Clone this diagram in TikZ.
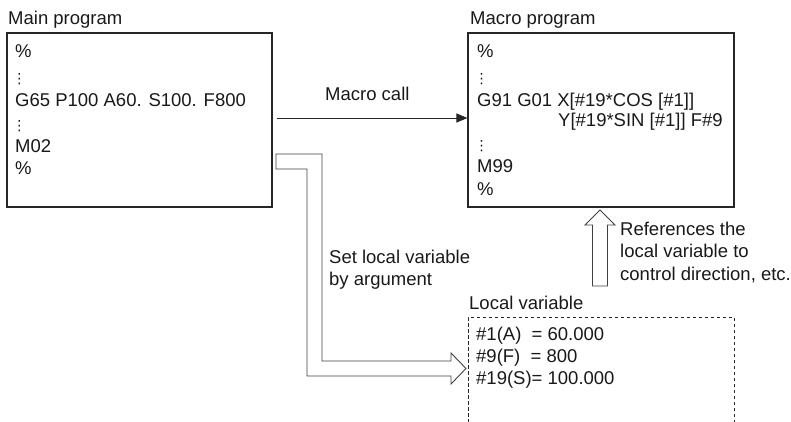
\documentclass[tikz,border=0pt]{standalone}
\usepackage{fontspec}
\setmainfont{Liberation Sans}
\newfontfamily\dejavu{DejaVu Sans}
\usetikzlibrary{arrows.meta}
\begin{document}
\begin{tikzpicture}[x=1pt,y=-1pt,
  txt/.style={anchor=base west, inner sep=0pt, text=black!90, font=\fontsize{18.5}{22}\selectfont},
  dotsty/.style={anchor=base, inner sep=0pt, text=black!90, font=\dejavu\fontsize{14}{16}\selectfont},
  boxed/.style={draw=black!85, line width=1.1pt, inner sep=0pt},
  hollow/.style={draw=black!75, line width=0.9pt, line join=miter}]
\useasboundingbox (0,0) rectangle (791,421);

% boxes
\node[boxed, minimum width=265pt, minimum height=174pt] (mainbox) at (139.5,120) {};
\node[boxed, minimum width=266pt, minimum height=174pt] (macrobox) at (601,120) {};
\node[boxed, dash pattern=on 3.5pt off 2.5pt, line width=1pt, minimum width=266pt, minimum height=140pt] (localbox) at (601,387) {};

% titles
\node[txt] (maintitle) at (8,24) {Main program};
\node[txt] (macrotitle) at (470,24) {Macro program};
\node[txt] (localtitle) at (469,309) {Local variable};

% main program text
\node[txt] (m1) at (15,57) {\%};
\node[dotsty] (m2) at (19.5,83) {⋮};
\node[txt] (m3) at (15,106) {G65 P100 A60. S100. F800};
\node[dotsty] (m4) at (19.5,130) {⋮};
\node[txt] (m5) at (15,152) {M02};
\node[txt] (m6) at (15,174) {\%};

% macro program text
\node[txt] (p1) at (477,57) {\%};
\node[dotsty] (p2) at (481.5,83) {⋮};
\node[txt] (p3) at (477,106) {G91 G01 X[\#19*COS [\#1]]};
\node[txt] (p4) at (558,126) {Y[\#19*SIN [\#1]] F\#9};
\node[dotsty] (p5) at (481.5,150) {⋮};
\node[txt] (p6) at (477,172) {M99};
\node[txt] (p7) at (477,195) {\%};

% local variable text
\node[txt] (l1) at (476,340) {\#1(A)\ \ = 60.000};
\node[txt] (l2) at (476,362) {\#9(F)\ \ = 800};
\node[txt] (l3) at (476,384) {\#19(S)= 100.000};

% labels
\node[txt] (callLabel) at (325,100) {Macro call};
\node[txt] (setA) at (329,263) {Set local variable};
\node[txt] (setB) at (329,285) {by argument};
\node[txt] (refA) at (620,235) {References the};
\node[txt] (refB) at (620,257) {local variable to};
\node[txt] (refC) at (620,280) {control direction, etc.};

% macro call arrow
\draw[line width=1pt, draw=black!85, -{Triangle[length=11pt,width=9pt]}, shorten <=4pt]
  ([yshift=2pt]mainbox.east) -- ([yshift=2pt]macrobox.west);

% hollow L-shaped arrow (argument passing)
\coordinate (ls1) at (276,154);
\coordinate (ltip) at (466,368.5);
\draw[hollow] (ls1) -- (322,154) -- (322,361) -- (451,361) -- (451,353)
  -- (ltip) -- (451,384) -- (451,376) -- (307,376) -- (307,169) -- (276,169) -- cycle;

% hollow up arrow (reference)
\coordinate (utip) at (600,210);
\draw[hollow] (592.5,286) -- (592.5,225) -- (585,225) -- (utip) -- (615,225)
  -- (607.5,225) -- (607.5,286) -- cycle;
\end{tikzpicture}
\end{document}
